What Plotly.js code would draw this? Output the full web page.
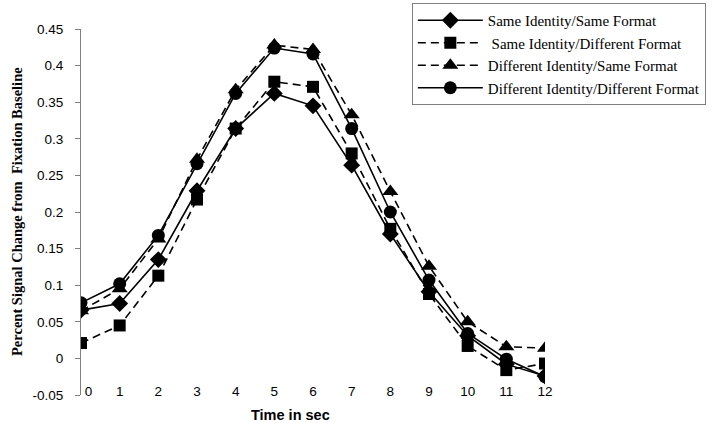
<!DOCTYPE html>
<html><head><meta charset="utf-8">
<script src="https://cdn.plot.ly/plotly-3.0.1.min.js"></script>
<style>html,body{margin:0;padding:0;background:#fff}</style>
</head><body><div id="chart" style="width:720px;height:423px"></div>
<script>
const timeSec = [0,1,2,3,4,5,6,7,8,9,10,11,12];
const tickLabels = ['0','1','2','3','4','5','6','7','8','9','10','11','12'];
const yTickVals = [-0.05,0,0.05,0.1,0.15,0.2,0.25,0.3,0.35,0.4,0.45];
const yTickText = ['-0.05','0','0.05','0.1','0.15','0.2','0.25','0.3','0.35','0.4','0.45'];
const seriesNames = ['Same Identity/Same Format',' Same Identity/Different Format','Different Identity/Same Format','Different Identity/Different Format'];
const sameSame = [0.066,0.075,0.135,0.229,0.314,0.362,0.345,0.264,0.170,0.091,0.031,-0.008,-0.024];
const sameDiff = [0.021,0.045,0.113,0.217,0.314,0.378,0.371,0.280,0.177,0.088,0.017,-0.016,-0.007];
const diffSame = [0.065,0.095,0.163,0.272,0.367,0.428,0.422,0.333,0.228,0.126,0.050,0.016,0.014];
const diffDiff = [0.076,0.102,0.168,0.266,0.362,0.424,0.416,0.314,0.200,0.107,0.034,-0.001,-0.025];
const xTitle = 'Time in sec';
const yTitle = 'Percent Signal Change from  Fixation Baseline';

const seriesData = [sameSame, sameDiff, diffSame, diffDiff];
const symbols = ['diamond','square','triangle-up','circle'];
const sizes = [13,12,14,13];
const dashes = ['solid','8px,5px','8px,5px','solid'];

const traces = seriesData.map((vals,i)=>({
  x: timeSec, y: vals, name: seriesNames[i], type:'scatter', mode:'lines+markers',
  line:{color:'#000', width:1.6, dash:dashes[i]},
  marker:{symbol:symbols[i], size:sizes[i], color:'#000'}
}));

const padLabel = t => t === '0' ? '\u2007\u20070' : t;
const tickFont = {family:'Liberation Sans, Arial, sans-serif', size:13.5, color:'#000'};

const layout = {
  width:720, height:423,
  margin:{l:81, r:175, t:29, b:28, autoexpand:false},
  paper_bgcolor:'#fff', plot_bgcolor:'#fff',
  showlegend:true,
  legend:{x:0.713, y:1.071, xanchor:'left', yanchor:'top', bordercolor:'#808080', borderwidth:1,
    font:{family:'Liberation Serif, Times New Roman, serif', size:15, color:'#000'},
    bgcolor:'#fff', tracegroupgap:0, itemwidth:65},
  xaxis:{range:[0,12], anchor:'free', position:0.036, showline:false, ticks:'', showgrid:false, zeroline:false,
    tickmode:'array', tickvals:timeSec, ticktext:tickLabels.map(padLabel), tickfont:tickFont},
  xaxis2:{range:[0,12], overlaying:'x', anchor:'free', position:0.1, side:'bottom', showline:true, linecolor:'#808080', linewidth:1,
    ticks:'outside', ticklen:4, tickcolor:'#808080', showticklabels:false, showgrid:false, zeroline:false,
    tickmode:'array', tickvals:timeSec},
  xaxis3:{range:[0,12], overlaying:'x', anchor:'free', position:0.1, side:'bottom', showline:false,
    ticks:'inside', ticklen:4, tickcolor:'#808080', showticklabels:false, showgrid:false, zeroline:false,
    tickmode:'array', tickvals:timeSec},
  yaxis:{range:[-0.05,0.45], showline:true, linecolor:'#808080', linewidth:1, ticks:'outside', ticklen:5, tickcolor:'#808080',
    showgrid:false, zeroline:false, tickmode:'array', tickvals:yTickVals, ticktext:yTickText, tickfont:tickFont, ticklabelstandoff:9},
  yaxis2:{range:[-0.05,0.45], overlaying:'y', anchor:'x', side:'left', showline:false, ticks:'inside', ticklen:4, tickcolor:'#808080',
    showticklabels:false, showgrid:false, zeroline:false, tickmode:'array', tickvals:yTickVals},
  annotations:[
    {text:'<b>'+xTitle+'</b>', xref:'paper', yref:'paper', x:(290-81)/464, y:(395-415)/366, xanchor:'center', yanchor:'middle', showarrow:false,
     font:{family:'Liberation Sans, Arial, sans-serif', size:14.5, color:'#000'}},
    {text:'<b>'+yTitle+'</b>', xref:'paper', yref:'paper', x:(17-81)/464, y:0.5, xanchor:'center', yanchor:'middle', textangle:-90, showarrow:false,
     font:{family:'Liberation Serif, Times New Roman, serif', size:14.5, color:'#000'}}
  ]
};
Plotly.newPlot('chart', traces, layout, {displayModeBar:false, staticPlot:true});
</script></body></html>
